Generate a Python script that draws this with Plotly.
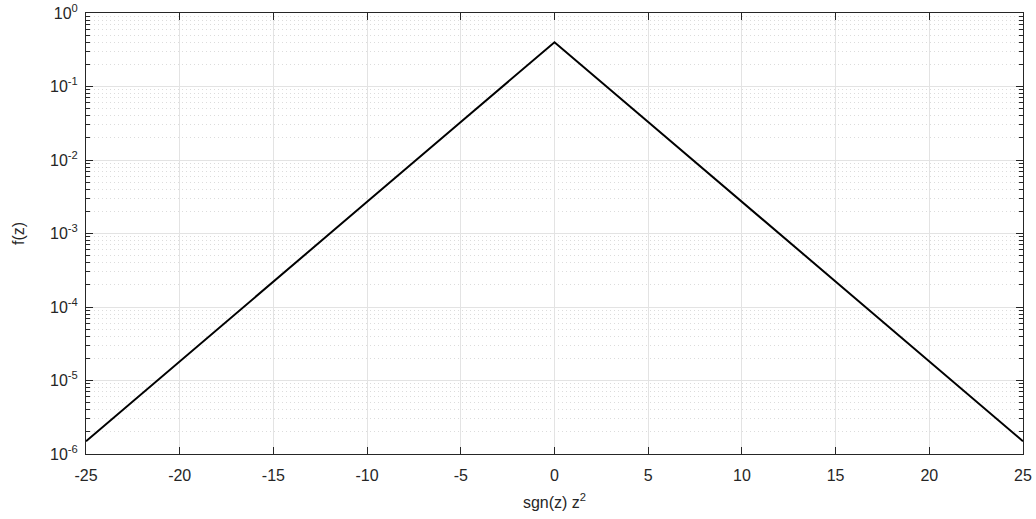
import plotly.graph_objects as go

# signed squared z and the density f(z), read at each x tick
sz2 = [-25, -20, -15, -10, -5, 0, 5, 10, 15, 20, 25]
fz = [1.49e-6, 1.8e-5, 2.2e-4, 2.7e-3, 3.3e-2, 0.399,
      3.3e-2, 2.7e-3, 2.2e-4, 1.8e-5, 1.49e-6]

x_ticks = [-25, -20, -15, -10, -5, 0, 5, 10, 15, 20, 25]
x_ticktext = ["-25", "-20", "-15", "-10", "-5", "0", "5", "10", "15", "20", "25"]
y_exps = [-6, -5, -4, -3, -2, -1, 0]

y_tickvals = [10.0 ** e for e in y_exps]
y_ticktext = [f"10<sup>{e}</sup>" for e in y_exps]
y_minor = [k * 10.0 ** e for e in y_exps[:-1] for k in range(2, 10)]

font = dict(family="Liberation Sans, Arial, sans-serif", size=16, color="#262626")

fig = go.Figure()
fig.add_trace(go.Scatter(
    x=sz2, y=fz, mode="lines",
    line=dict(color="black", width=2),
    showlegend=False,
))

fig.update_layout(
    width=1036, height=519,
    margin=dict(l=86, r=13, t=13, b=65),
    paper_bgcolor="white", plot_bgcolor="white",
    font=font,
)

fig.update_xaxes(
    range=[-25, 25],
    tickvals=x_ticks, ticktext=x_ticktext,
    tickfont=font,
    ticks="inside", ticklen=7, tickcolor="#262626",
    showline=True, linecolor="#262626", linewidth=1, mirror="ticks",
    showgrid=True, gridcolor="#e3e3e3", gridwidth=1,
    zeroline=False, automargin=False,
    ticklabelstandoff=7,
    title=dict(text="sgn(z) z<sup>2</sup>", font=font, standoff=13),
)

fig.update_yaxes(
    type="log", range=[-6, 0],
    tickvals=y_tickvals, ticktext=y_ticktext,
    tickfont=font,
    ticks="inside", ticklen=7, tickcolor="#262626",
    showline=True, linecolor="#262626", linewidth=1, mirror="ticks",
    showgrid=True, gridcolor="#e3e3e3", gridwidth=1,
    zeroline=False, automargin=False,
    ticklabelstandoff=4,
    minor=dict(
        tickvals=y_minor, ticks="inside", ticklen=4, tickcolor="#262626",
        showgrid=True, gridcolor="#dcdcdc", griddash="1px,3px", gridwidth=1,
    ),
    title=dict(text="f(z)", font=font, standoff=21),
)

fig.write_html("out.html")
